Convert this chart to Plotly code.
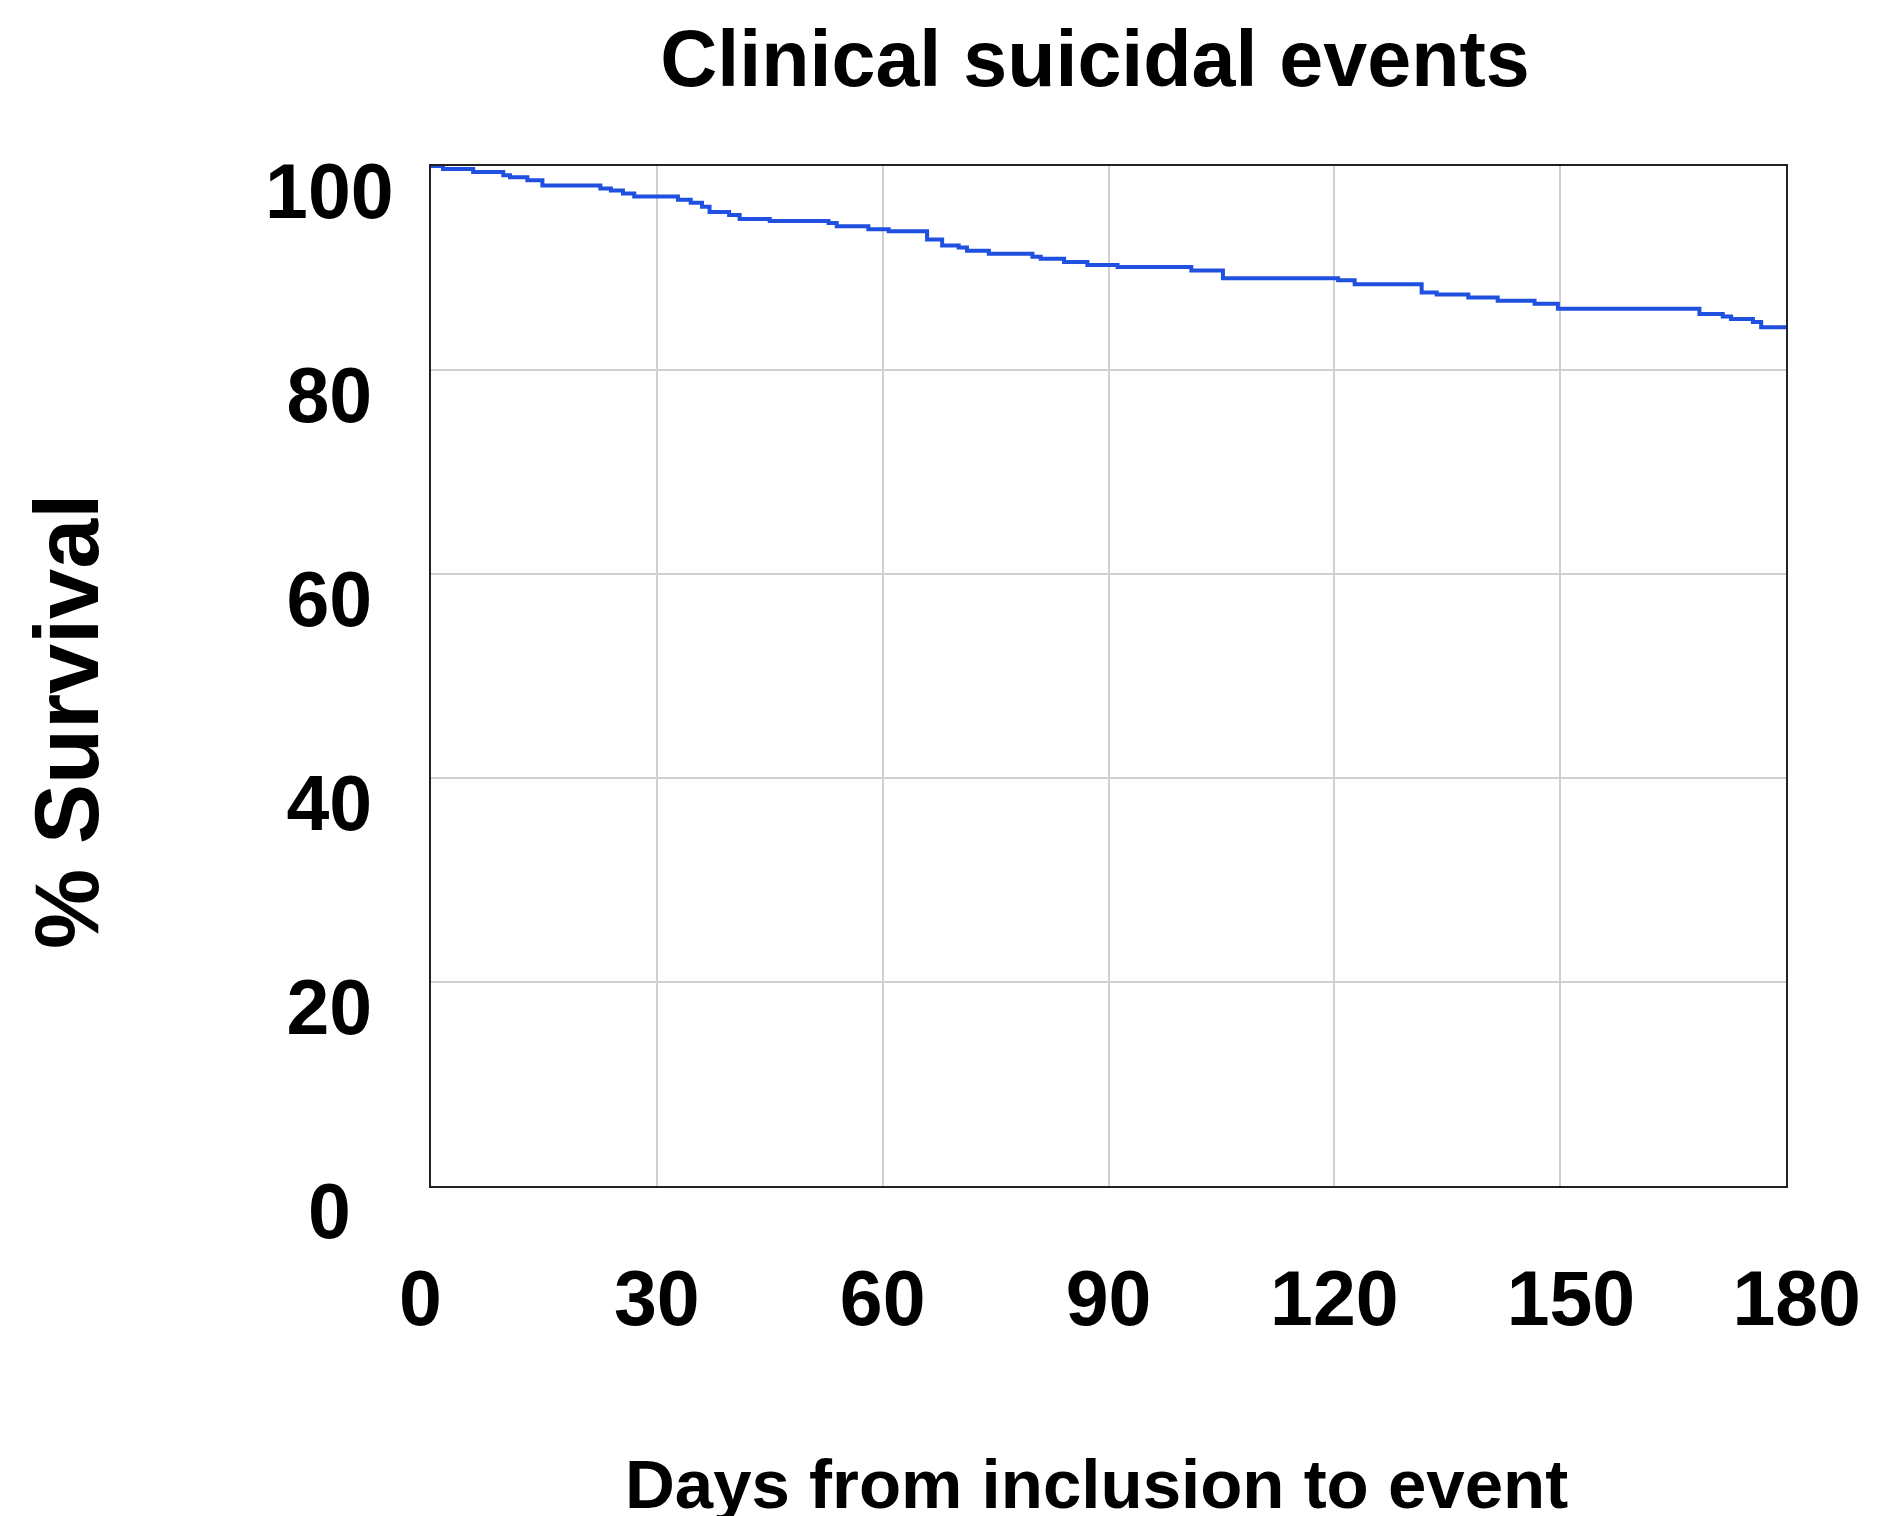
import plotly.graph_objects as go

# Kaplan-Meier step curve
days = [0, 1.6, 5.6, 9.6, 10.5, 12.8, 14.8, 22.5, 23.9, 25.5, 27.0, 32.8, 34.5, 36.0,
        37.0, 39.6, 41.0, 45.0, 52.8, 53.9, 58.1, 60.8, 65.9, 67.9, 70.1, 71.2, 74.1,
        79.9, 81.0, 84.1, 87.2, 91.2, 101.0, 105.2, 120.5, 122.7, 131.6, 133.6, 137.8,
        141.7, 146.6, 149.7, 168.5, 171.6, 172.7, 175.6, 176.7, 180]
survival = [100, 99.7, 99.4, 99.1, 98.9, 98.6, 98.1, 97.8, 97.6, 97.3, 97.0, 96.7, 96.4, 96.0,
            95.5, 95.2, 94.8, 94.6, 94.4, 94.1, 93.8, 93.6, 92.8, 92.2, 92.0, 91.7, 91.4,
            91.1, 90.9, 90.6, 90.3, 90.1, 89.75, 89.0, 88.8, 88.4, 87.6, 87.4, 87.1,
            86.8, 86.5, 86.0, 85.5, 85.25, 85.0, 84.7, 84.2, 84.2]

x_tick_vals = [0, 30, 60, 90, 120, 150, 180]
x_tick_labels = ["0", "30", "60", "90", "120", "150", "180"]
y_tick_vals = [0, 20, 40, 60, 80, 100]
y_tick_labels = ["0", "20", "40", "60", "80", "100"]

title_text = "Clinical suicidal events"
x_title = "Days from inclusion to event"
y_title = "% Survival"

FONT = "Liberation Sans, Arial, Helvetica, sans-serif"
NB = "\u00a0"

# page body has an 8px margin: figure is sized to fit the window exactly
W, H = 1872, 1508
L, R, T, B = 423, 94, 158, 330
plot_w = W - L - R
plot_h = H - T - B

# centre-align the y labels (right-aligned by default) with no-break spaces
maxlen = max(len(t) for t in y_tick_labels)
y_text = [t + NB * (maxlen - len(t)) for t in y_tick_labels]
x_pad = {"0": "0" + NB, "150": NB + "150", "180": NB + "180"}
x_text = [x_pad.get(t, t) for t in x_tick_labels]

fig = go.Figure()
fig.add_trace(go.Scatter(
    x=days, y=survival, mode="lines", line_shape="hv",
    line=dict(color="#1f50e0", width=4), showlegend=False,
))

fig.update_layout(
    width=W, height=H,
    margin=dict(l=L, r=R, t=T, b=B, autoexpand=False),
    paper_bgcolor="white", plot_bgcolor="white",
    font=dict(family=FONT, color="black", weight="bold"),
    title=dict(text=title_text, x=1087 / W, xref="container", xanchor="center",
               y=1 - 50 / H, yref="container", yanchor="middle",
               font=dict(size=79, family=FONT, color="black", weight="bold")),
)

fig.update_xaxes(
    range=[0, 180], tickvals=x_tick_vals, ticktext=x_text,
    tickfont=dict(size=77, family=FONT, weight="bold"),
    showgrid=True, gridcolor="#d0d0d0", gridwidth=2,
    showline=True, linecolor="#222222", linewidth=2, mirror=True,
    ticks="", ticklabelstandoff=45, zeroline=False,
)
fig.update_yaxes(
    range=[0, 100], tickvals=y_tick_vals, ticktext=y_text,
    tickfont=dict(size=77, family=FONT, weight="bold"),
    showgrid=True, gridcolor="#d0d0d0", gridwidth=2,
    showline=True, linecolor="#222222", linewidth=2, mirror=True,
    ticks="", ticklabelstandoff=20, ticklabelshift=25, zeroline=False,
)

# axis titles placed as annotations for exact positioning
fig.add_annotation(
    text=x_title, xref="paper", yref="paper",
    x=(1088 - L) / plot_w, y=-(1476 - (T + plot_h)) / plot_h,
    xanchor="center", yanchor="middle", showarrow=False,
    font=dict(size=69, family=FONT, color="black", weight="bold"),
)
fig.add_annotation(
    text=y_title, xref="paper", yref="paper", textangle=-90,
    x=-(L - 59) / plot_w, y=(T + plot_h - 713) / plot_h,
    xanchor="center", yanchor="middle", showarrow=False,
    font=dict(size=90, family=FONT, color="black", weight="bold"),
)

fig.write_html("out.html")
